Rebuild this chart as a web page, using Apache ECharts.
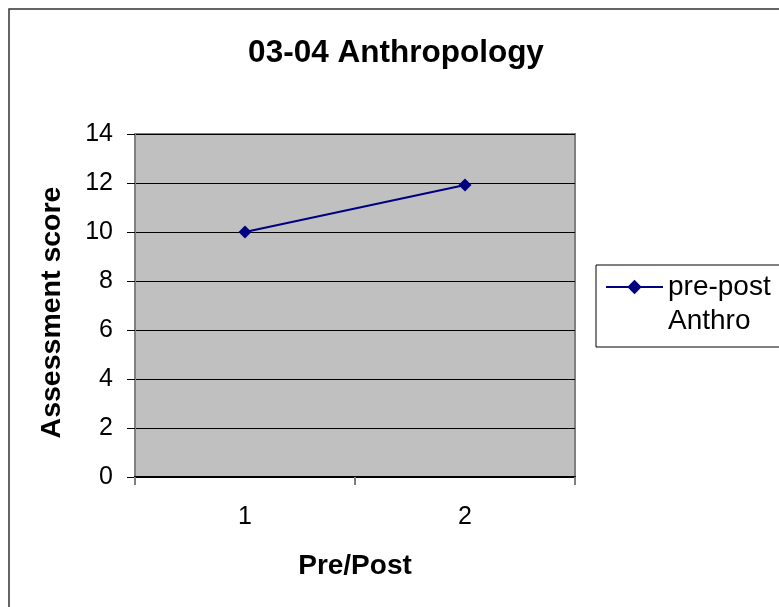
<!DOCTYPE html>
<html>
<head>
<meta charset="utf-8">
<title>03-04 Anthropology</title>
<script src="https://cdn.jsdelivr.net/npm/echarts@6/dist/echarts.min.js"></script>
<style>
  html, body { margin: 0; padding: 0; background: #ffffff; }
  #chart { width: 779px; height: 607px; }
</style>
</head>
<body>
<div id="chart"></div>
<script>
// data
var categories = ["1", "2"];
var scores = [10, 11.92];
var seriesName = "pre-post Anthro";
var yTicks = { min: 0, max: 14, step: 2 };

var FONT = "Arial, 'Liberation Sans', sans-serif";
var LEGEND_LH = 34;

var chart = echarts.init(document.getElementById("chart"), null, { renderer: "canvas" });

var option = {
    backgroundColor: "#ffffff",
    animation: false,
    textStyle: { fontFamily: FONT, color: "#000" },
    title: {
        text: "03-04 Anthropology",
        left: 396,
        top: 37,
        padding: 0,
        textAlign: "center",
        textStyle: { fontFamily: FONT, fontSize: 31.5, fontWeight: "bold", color: "#000" }
    },
    grid: {
        left: 135,
        top: 134,
        width: 440,
        height: 343,
        show: true,
        backgroundColor: "#c0c0c0",
        borderColor: "#808080",
        borderWidth: 2
    },
    legend: {
        left: 605,
        top: 236,
        padding: 0,
        selectedMode: false,
        itemWidth: 57,
        itemHeight: 18,
        data: [seriesName],
        formatter: function() {
            // blank first line so the icon sits level with "pre-post"
            return "\npre-post\nAnthro";
        },
        textStyle: {
            fontFamily: FONT,
            fontSize: 28,
            color: "#000",
            lineHeight: LEGEND_LH
        }
    },
    xAxis: {
        type: "category",
        data: categories,
        boundaryGap: true,
        name: "Pre/Post",
        nameLocation: "middle",
        nameGap: 75,
        nameTextStyle: { fontFamily: FONT, fontSize: 28, fontWeight: "bold", color: "#000" },
        axisLine: { show: true, lineStyle: { color: "#000", width: 2 } },
        axisTick: { show: true, alignWithLabel: false, length: 8, lineStyle: { color: "#808080", width: 2 } },
        axisLabel: { fontFamily: FONT, fontSize: 25, color: "#000", margin: 28 },
        splitLine: { show: false }
    },
    yAxis: {
        type: "value",
        min: yTicks.min,
        max: yTicks.max,
        interval: yTicks.step,
        name: "Assessment score",
        nameLocation: "middle",
        nameGap: 68,
        nameTextStyle: {
            fontFamily: FONT,
            fontSize: 28.5,
            fontWeight: "bold",
            color: "#000",
            padding: [0, 14, 0, 0]
        },
        axisLine: { show: true, lineStyle: { color: "#808080", width: 2 } },
        axisTick: { show: true, length: 8, lineStyle: { color: "#000", width: 1 } },
        axisLabel: { fontFamily: FONT, fontSize: 25, color: "#000", margin: 22 },
        splitLine: { show: true, lineStyle: { color: "#000", width: 1 } }
    },
    series: [
        {
            name: seriesName,
            type: "line",
            data: scores,
            symbol: "diamond",
            symbolSize: 13,
            itemStyle: { color: "#000080" },
            lineStyle: { color: "#000080", width: 2 }
        }
    ],
    graphic: [
        {
            // outer chart frame (runs off the right and bottom edge)
            type: "rect",
            silent: true,
            shape: { x: 9, y: 9, width: 800, height: 700 },
            style: { fill: null, stroke: "#333", lineWidth: 1.5 }
        },
        {
            // legend frame
            type: "rect",
            silent: true,
            shape: { x: 596, y: 265, width: 220, height: 82 },
            style: { fill: null, stroke: "#000", lineWidth: 1 }
        }
    ]
};

chart.setOption(option);
</script>
</body>
</html>
